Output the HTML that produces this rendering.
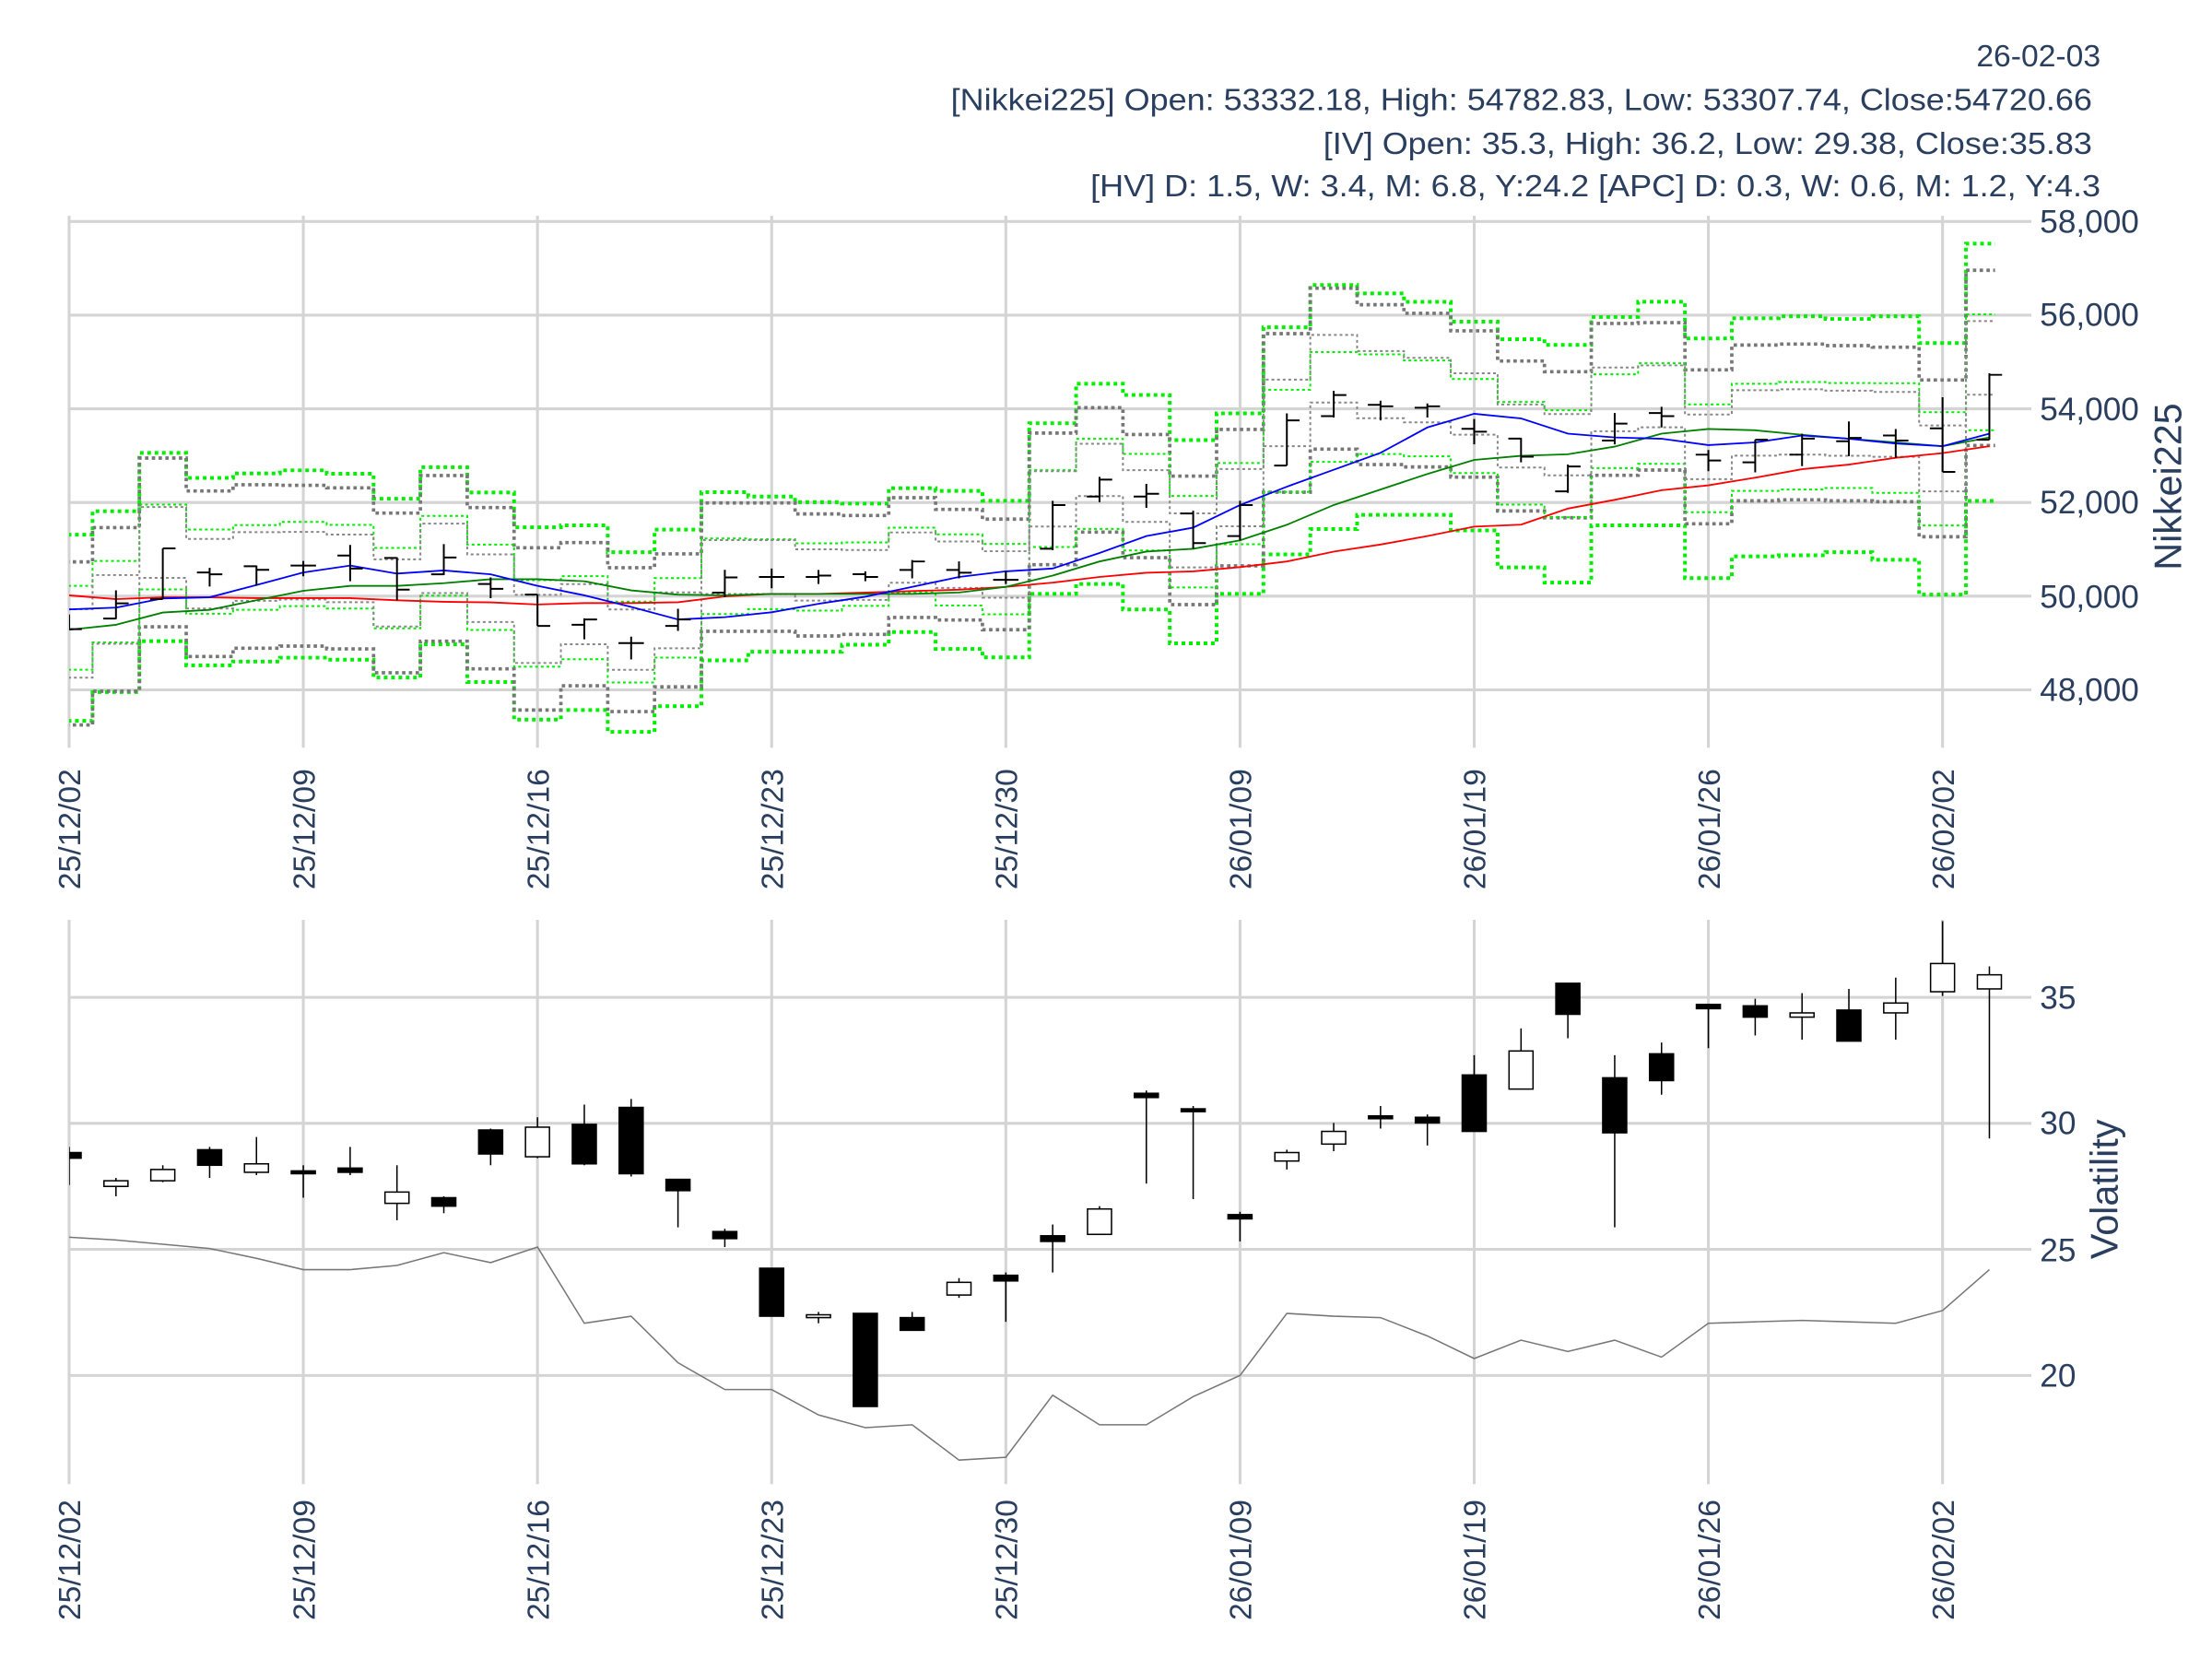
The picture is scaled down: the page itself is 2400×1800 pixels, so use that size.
<!DOCTYPE html>
<html><head><meta charset="utf-8"><style>
html,body{margin:0;padding:0;background:#fff;}
svg{display:block;}
text{font-family:"Liberation Sans Narrow","Liberation Sans",sans-serif;fill:#2a3f5f;}
</style></head><body>
<svg id="s" width="2400" height="1800" viewBox="0 0 1568 1176" xmlns="http://www.w3.org/2000/svg">
<defs>
<clipPath id="cu"><rect x="49" y="140" width="1391" height="392"/></clipPath>
<clipPath id="cl"><rect x="49" y="640" width="1391" height="415"/></clipPath>
</defs>
<g id="grid" stroke="#d4d4d4" stroke-width="2"></g>
<g id="up" clip-path="url(#cu)"></g>
<g id="lo" clip-path="url(#cl)"></g>
<g font-size="22" text-anchor="end">
<text x="1489" y="47">26-02-03</text>
<text x="1483" y="78" textLength="809" lengthAdjust="spacingAndGlyphs">[Nikkei225] Open: 53332.18, High: 54782.83, Low: 53307.74, Close:54720.66</text>
<text x="1483" y="109" textLength="545" lengthAdjust="spacingAndGlyphs">[IV] Open: 35.3, High: 36.2, Low: 29.38, Close:35.83</text>
<text x="1489" y="139" textLength="716" lengthAdjust="spacingAndGlyphs">[HV] D: 1.5, W: 3.4, M: 6.8, Y:24.2 [APC] D: 0.3, W: 0.6, M: 1.2, Y:4.3</text>
</g>
<g font-size="23">
<text x="1446" y="165">58,000</text>
<text x="1446" y="231">56,000</text>
<text x="1446" y="298">54,000</text>
<text x="1446" y="364">52,000</text>
<text x="1446" y="431">50,000</text>
<text x="1446" y="497">48,000</text>
<text x="1446" y="715">35</text>
<text x="1446" y="804">30</text>
<text x="1446" y="894">25</text>
<text x="1446" y="983">20</text>
</g>
<text font-size="27" text-anchor="middle" transform="translate(1546,345) rotate(-90)">Nikkei225</text>
<text font-size="27" text-anchor="middle" transform="translate(1501,843) rotate(-90)">Volatility</text>
<g id="xl" font-size="22" text-anchor="end"></g>
</svg>
<script>
const NS="http://www.w3.org/2000/svg";
function el(p,t,a){const e=document.createElementNS(NS,t);for(const k in a)e.setAttribute(k,a[k]);p.appendChild(e);return e;}
const X=i=>49+33.2*i;
const grid=document.getElementById('grid'),up=document.getElementById('up'),lo=document.getElementById('lo'),xl=document.getElementById('xl');
[157,223.4,289.8,356.2,422.6,489].forEach(y=>el(grid,'line',{x1:49,x2:1440,y1:y,y2:y}));
[707,796.3,885.6,975].forEach(y=>el(grid,'line',{x1:49,x2:1440,y1:y,y2:y}));
const labs=["25/12/02","25/12/09","25/12/16","25/12/23","25/12/30","26/01/09","26/01/19","26/01/26","26/02/02"];
labs.forEach((l,k)=>{const x=X(k*5);
 el(grid,'line',{x1:x,x2:x,y1:153,y2:530});
 el(grid,'line',{x1:x,x2:x,y1:652,y2:1052});
 let t=el(xl,'text',{transform:`translate(${x+8},545) rotate(-90)`});t.textContent=l;
 t=el(xl,'text',{transform:`translate(${x+8},1063) rotate(-90)`});t.textContent=l;
});
// green band
const T=[379,362.4,321,338.8,335.6,333.4,335.8,353.5,331.2,349.1,373.8,372.4,391.4,375.4,348.9,352,356,357,346,348,355,300,272,280,312,293,232,202,208,214,228,240.5,244.5,224.7,213.9,239.9,225.6,224.2,226.1,224.2,243.2,172.7];
const B=[511,490.6,454.5,471.6,468.9,466.2,467.6,480.3,456.7,483.5,510.1,503.3,518.8,500.6,468.1,462,462,457,448,460,466,421,414,432,456,421,393,375,365,365,376,402.2,413,372.4,372.4,409.8,394.4,393.6,391.4,396.8,421.5,355.1];
// gray band
const GT=[398.3,374,324.7,348,343.6,344,345.8,363.7,337.1,359.8,388.3,384.6,402.4,392.6,356.5,356.5,364.3,365.4,352.8,361.1,368,307,289,308,337.5,304.4,236.5,204.3,216,222.1,234.5,255.9,263.5,229.3,228.7,262.2,244.6,243.9,245,246.1,269.4,191.6];
const GB=[513.9,490,444.3,465.4,459.5,458,460,476.9,454.5,474.1,503.3,486.1,504.4,486.9,447.5,447.5,450.8,449.7,437.7,439.5,446.4,400.3,377.2,395.3,428.6,401.1,348.9,318.4,329.3,331,338.2,362.2,367,336.9,333.2,371.3,355,354.3,355,355.6,380.5,315.8];
function band(TT,BB,k,c,w,d){[-1,1].forEach(sg=>{let p='';
 for(let i=0;i<TT.length;i++){const m=(TT[i]+BB[i])/2,h=(BB[i]-TT[i])/2;const y=m+sg*k*h;
  const x0=X(i)-16.6,x1=Math.min(X(i)+16.6,X(41)+4);p+=(i?'L':'M')+x0+','+y+'L'+x1+','+y;}
 el(up,'path',{d:p,fill:'none',stroke:c,'stroke-width':w,'stroke-dasharray':d});});}
band(T,B,1,'#00ee00',2.6,'2.6,2.6');
band(GT,GB,1,'#777',2.4,'2.4,2.4');
band(T,B,0.45,'#00ee00',1.3,'2,2');
band(GT,GB,0.42,'#888',1.3,'2,2');
// MAs
function line(g,ys,c,w){el(g,'polyline',{points:ys.map((y,i)=>X(i)+','+y).join(' '),fill:'none',stroke:c,'stroke-width':w});}
line(up,[422,424.7,423.4,423.4,424,424,424,425.5,426.6,427,428.5,427.5,427.5,426.9,422.8,421,421,420,419,418,416,413,409,406,405,402,398,391,386,380,373.3,371.9,360.5,354.3,347.5,344,338.6,332.6,329.3,324.5,321.2,316.3],'#ff0000',1.2);
line(up,[446.4,442.9,434.2,432.3,425.5,418.8,415.3,415.3,413.4,410.6,410.6,412,418.5,421.5,422,421,421,421,421,420,416,408,398,391,389,383,372,358,347,336,326,323.1,322,316.6,307.4,304.1,305,308.2,311,313.6,316.3,310.1],'#008000',1.2);
line(up,[432,430.7,424.2,423.4,414.7,405.8,400.9,406.6,404.4,407.1,415.3,422,430.2,439.1,437.5,434,428,423,416,409,405,403,392,380,374,358,345,333,321,303,293.3,296.6,307.4,310.1,311,315.5,313.6,308.7,311,314.4,316.3,307.4],'#0000ff',1.2);
// OHLC bars [hi,lo,o,c]
const U=[[435.6,446.5,441,446],[418.5,438.8,438.5,427.7],[388.7,424.7,424.7,388.7],[402.5,415.8,405.8,407.1],[400.9,415.2,401.4,403.9],[397.6,408.5,400.9,400.9],[386.3,412,393.8,403],[395,425.6,395.5,418],[385.7,407.7,407.1,395.2],[409.3,424,414,417.4],[421.5,443.7,421.5,443.7],[438.3,453.2,442.9,439.1],[451.3,467.5,455.9,455.9],[431.5,447.2,443.7,439.1],[403.9,423.4,420.1,409.3],[403,417,409,409],[404,414,409,408],[405,412,407,409],[397,410,404,398],[398,410,404,406],[405,414,411,411],[355,390,389,358],[338,356,352,340],[343,360,352,350],[362,389,364,385],[355,383,380,358],[293,330,330,298],[277,296,295,280],[284,298,287,288],[286,296,289,288],[297,315,304,306],[310.4,327.7,310.9,323.7],[329.3,349.4,348.3,330.7],[292.8,315,312.3,300.3],[288.4,303,292.8,295],[319,334,322.3,326.4],[311.7,334.8,327.7,311.7],[307.4,330.4,322.3,310.9],[298.7,323.4,312.8,310.4],[304.1,324.7,308.7,312.3],[281.6,334.5,303.6,334.5],[264.6,311.7,311.7,265.7]];
U.forEach(([h,l,o,c],i)=>{const x=X(i);
 el(up,'path',{d:`M${x},${h}V${l}M${x-9},${o}H${x}M${x},${c}H${x+9}`,stroke:'#000','stroke-width':1.3,fill:'none'});});
// IV candles [bodyTop,bodyBot,wickTop,wickBot,filled]
const L=[[817,821,813,840,1],[837,841,835,848,0],[829,837,826,838,0],[815,826,813,835,1],[825,831,806,833,0],[830,832,826,849,1],[828,831,813,833,1],[845,853,826,865,0],[849,855,848,860,1],[801,818,800,826,1],[799,820,792,821,0],[797,825,783,826,1],[785,832,779,834,1],[836,844,836,870,1],[873,878,871,884,1],[899,933,899,933,1],[932,934,930,938,0],[931,997,931,997,1],[934,943,930,943,1],[909,918,906,920,0],[904,908,902,937,1],[876,880,868,902,1],[857,875,855,875,0],[775,778,773,839,1],[786,788,784,850,1],[861,864,859,880,1],[817,823,815,829,0],[802,811,796,816,0],[791,793,784,800,1],[792,796,790,812,1],[762,802,748,802,1],[745,772,729,772,0],[697,719,697,736,1],[764,803,748,870,1],[747,766,739,776,1],[712,715,712,743,1],[713,721,708,734,1],[718,721,704,737,0],[716,738,701,738,1],[711,718,693,737,0],[683,703,653,706,0],[691,701,685,807,0]];
L.forEach(([bt,bb,wt,wb,f],i)=>{const x=X(i);
 el(lo,'line',{x1:x,x2:x,y1:wt,y2:wb,stroke:'#000','stroke-width':1});
 el(lo,'rect',{x:x-8.5,y:bt,width:17,height:Math.max(bb-bt,1.5),fill:f?'#000':'#fff',stroke:'#000','stroke-width':1});});
line(lo,[877,879,882,885,892,900,900,897,888,895,884,938,933,966,985,985,1003,1012,1010,1035,1033,989,1010,1010,990,975,931,933,934,947,963,950,958,950,962,938,937,936,937,938,929,900],'#777',1);
</script>
</body></html>
